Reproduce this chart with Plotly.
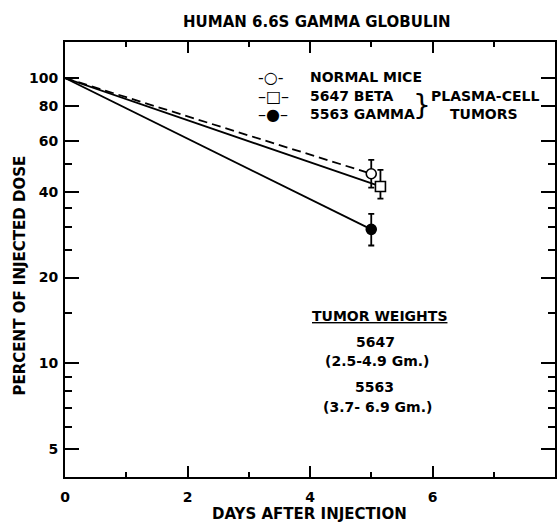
import plotly.graph_objects as go

# ---- data ----
normal_days = [0, 5.0]
normal_pct = [100, 46.2]
normal_err_plus = [5.5]
normal_err_minus = [4.9]

beta_days = [0, 5.15]
beta_pct = [100, 41.7]
beta_err_plus = [6.0]
beta_err_minus = [3.9]

gamma_days = [0, 5.0]
gamma_pct = [100, 29.5]
gamma_err_plus = [3.9]
gamma_err_minus = [3.6]

x_major_ticks = [0, 2, 4, 6]
x_minor_ticks = [1, 3, 5, 7]
y_major_ticks = [5, 10, 20, 40, 60, 80, 100]
y_minor_ticks = [6, 7, 8, 9, 15, 25, 30, 35, 50]

legend_labels = ["NORMAL MICE", "5647 BETA", "5563 GAMMA"]
legend_keys = ["-\u25CB-", "\u2013\u25A1\u2013", "\u2013\u25CF\u2013"]
tumor_lines = ["5647", "(2.5-4.9 Gm.)", "5563", "(3.7- 6.9 Gm.)"]

# ---- layout geometry (pixels) ----
W, H = 559, 522
L, R, T, B = 64.5, 556.7, 42.3, 476.7


def px(p):
    return (p - L) / (R - L)


def py(q):
    return (B - q) / (B - T)


FONT = "DejaVu Sans"
BOLD = dict(family=FONT, color="black", weight="bold")

fig = go.Figure()

series = [
    (normal_days, normal_pct, normal_err_plus, normal_err_minus, "9px,5px", "circle", "white"),
    (beta_days, beta_pct, beta_err_plus, beta_err_minus, "solid", "square", "white"),
    (gamma_days, gamma_pct, gamma_err_plus, gamma_err_minus, "solid", "circle", "black"),
]

for days, pct, ep, em, dash, sym, fill in series:
    fig.add_trace(go.Scatter(
        x=days, y=pct, mode="lines",
        line=dict(color="black", width=1.8, dash=dash),
        showlegend=False, hoverinfo="skip"))

for days, pct, ep, em, dash, sym, fill in series:
    fig.add_trace(go.Scatter(
        x=days[-1:], y=pct[-1:], mode="markers",
        marker=dict(symbol=sym, size=10, color=fill,
                    line=dict(color="black", width=1.6)),
        error_y=dict(type="data", array=ep, arrayminus=em, symmetric=False,
                     color="black", thickness=1.8, width=3),
        showlegend=False))

ann = []


def add_text(text, x, y, size=14, anchor="center", bold=True, **kw):
    font = dict(size=size, **BOLD) if bold else dict(size=size, family=FONT, color="black")
    ann.append(dict(text=text, x=px(x), y=py(y), xref="paper", yref="paper",
                    showarrow=False, xanchor=anchor, yanchor="middle",
                    font=font, **kw))


# title and axis titles
add_text("HUMAN 6.6S GAMMA GLOBULIN", 318, 22, size=15)
add_text("PERCENT OF INJECTED DOSE", 19, 275.7, size=15, textangle=-90)
add_text("DAYS AFTER INJECTION", 310, 513.5, size=15)

# legend
rows_y = [77.7, 96.7, 114.3]
key_x = [271.5, 273.5, 273.5]
for lab, key, yy, kx in zip(legend_labels, legend_keys, rows_y, key_x):
    add_text(key, kx, yy, size=16, bold=False)
    add_text(lab, 309, yy, size=14, anchor="left")
add_text("}", 423, 105.5, size=28, bold=False)
add_text("PLASMA-CELL", 486, 96.7)
add_text("TUMORS", 485, 114.3)

# tumor weights block
add_text("<u>TUMOR WEIGHTS</u>", 380, 316)
for txt, xx, yy in zip(tumor_lines, [376.7, 378, 375, 378], [341.7, 361, 387, 407]):
    add_text(txt, xx, yy)

axis_common = dict(
    showline=True, linewidth=2, linecolor="black", mirror="ticks",
    ticks="inside", tickwidth=2, tickcolor="black",
    showgrid=False, zeroline=False,
    tickfont=dict(size=14, **BOLD),
)

fig.update_layout(
    width=W, height=H,
    margin=dict(l=L, r=W - R, t=T, b=H - B, pad=0),
    paper_bgcolor="white", plot_bgcolor="white",
    annotations=ann,
    showlegend=False,
    xaxis=dict(range=[0, 8], tickvals=x_major_ticks, ticklen=11,
               ticklabelstandoff=6,
               minor=dict(tickvals=x_minor_ticks, ticks="inside", ticklen=5,
                          tickwidth=2, tickcolor="black", showgrid=False),
               **axis_common),
    yaxis=dict(type="log", range=[0.6021, 2.1263], tickvals=y_major_ticks,
               ticklen=14, ticklabelstandoff=2,
               minor=dict(tickvals=y_minor_ticks, ticks="inside", ticklen=7,
                          tickwidth=2, tickcolor="black", showgrid=False),
               **axis_common),
)

fig.write_html(
    "out.html",
    config={"displayModeBar": False},
    post_script="document.body.style.margin='0';document.body.style.overflow='hidden';",
)
